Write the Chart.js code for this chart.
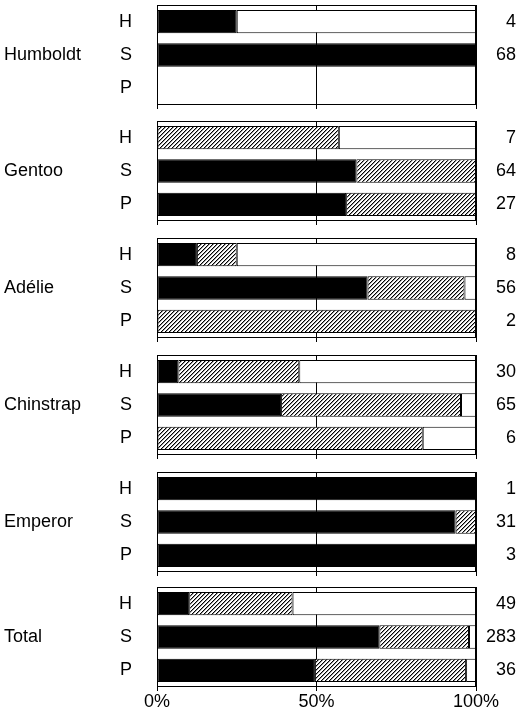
<!DOCTYPE html>
<html>
<head>
<meta charset="utf-8">
<script src="https://cdn.jsdelivr.net/npm/chart.js@4"></script>
<style>
  body { margin: 0; background: #fff; }
  .panel { position: absolute; left: 0; width: 518px; }
</style>
</head>
<body>
<div id="wrap"></div>
<script>
// groups and rows (H, S, P)
const species = ['Humboldt', 'Gentoo', 'Adélie', 'Chinstrap', 'Emperor', 'Total'];
const rowLabels = ['H', 'S', 'P'];

// share of each row in %, per species: [H, S, P]  (null = no bar)
const blackShare = [
  [25, 100, null],
  [null, 62.5, 59.3],
  [12.5, 66, null],
  [6.7, 38.9, null],
  [100, 93.6, 100],
  [10.1, 69.7, 49.5]
];
const hatchShare = [
  [null, null, null],
  [57, 37.5, 40.7],
  [12.5, 30.4, 100],
  [37.9, 56.4, 83.3],
  [null, 6.4, null],
  [32.4, 28.1, 47.4]
];
const whiteShare = [
  [75, null, null],
  [43, null, null],
  [75, 3.6, null],
  [55.4, 4.7, 16.7],
  [null, null, null],
  [57.5, 2.2, 3.1]
];
// n per row, shown on the right
const sampleSizes = [
  ['4', '68', ''],
  ['7', '64', '27'],
  ['8', '56', '2'],
  ['30', '65', '6'],
  ['1', '31', '3'],
  ['49', '283', '36']
];
const xTickLabels = ['0%', '50%', '100%'];

const FONT = { family: '"Liberation Sans", Arial, sans-serif', size: 18 };
const panelTops = [5, 121, 238, 355, 472, 587];

function makeHatch(ctx) {
  const tile = document.createElement('canvas');
  tile.width = 4;
  tile.height = 4;
  const g = tile.getContext('2d');
  g.fillStyle = '#fff';
  g.fillRect(0, 0, 4, 4);
  for (let i = 0; i < 4; i++) {
    g.fillStyle = '#000';
    g.fillRect(i, 3 - i, 1, 1);
    g.fillStyle = '#999';
    g.fillRect((i + 1) % 4, 3 - i, 1, 1);
  }
  return ctx.createPattern(tile, 'repeat');
}

// frame round the plot, group name on the left, n on the right
const panelDecor = {
  id: 'panelDecor',
  afterDatasetsDraw(chart, args, opts) {
    const { ctx, chartArea: a } = chart;
    const y = chart.scales.y;
    ctx.save();
    ctx.strokeStyle = '#000';
    ctx.lineWidth = 1;
    ctx.strokeRect(a.left + 0.5, a.top + 0.5, a.right - a.left - 1, a.bottom - a.top - 1);

    ctx.fillStyle = '#000';
    ctx.font = `${FONT.size}px ${FONT.family}`;
    ctx.textBaseline = 'middle';
    ctx.textAlign = 'left';
    ctx.fillText(opts.name, 4, y.getPixelForValue(1));
    ctx.textAlign = 'right';
    opts.counts.forEach((n, i) => {
      if (n) ctx.fillText(n, 516, y.getPixelForValue(i));
    });
    ctx.restore();
  }
};

const wrap = document.getElementById('wrap');

species.forEach((name, idx) => {
  const last = idx === species.length - 1;
  const top = panelTops[idx] - 5;
  const height = last ? 714 - top : 112;

  const box = document.createElement('div');
  box.className = 'panel';
  box.style.top = top + 'px';
  box.style.height = height + 'px';
  const canvas = document.createElement('canvas');
  box.appendChild(canvas);
  wrap.appendChild(box);
  const ctx = canvas.getContext('2d');

  const barStyle = {
    borderColor: '#000',
    borderWidth: 1,
    borderSkipped: false,
    barPercentage: 0.7,
    categoryPercentage: 1
  };

  new Chart(ctx, {
    type: 'bar',
    data: {
      labels: rowLabels,
      datasets: [
        { label: 'black', data: blackShare[idx], backgroundColor: '#000', ...barStyle },
        { label: 'hatched', data: hatchShare[idx], backgroundColor: makeHatch(ctx), ...barStyle },
        { label: 'white', data: whiteShare[idx], backgroundColor: '#fff', ...barStyle }
      ]
    },
    options: {
      indexAxis: 'y',
      responsive: true,
      maintainAspectRatio: false,
      animation: false,
      layout: { padding: { top: 5, right: 42, left: 0, bottom: last ? 0 : 3 } },
      scales: {
        x: {
          stacked: true,
          min: 0,
          max: 100,
          border: { display: false },
          grid: { color: '#000', tickColor: '#000', tickLength: 4 },
          ticks: {
            display: last,
            stepSize: 50,
            padding: 0,
            color: '#000',
            font: FONT,
            maxRotation: 0,
            callback: v => xTickLabels[v / 50]
          },
          afterFit: scale => {
            scale.height = last ? 27 : 4;
            scale.paddingLeft = 0;
            scale.paddingRight = 0;
          }
        },
        y: {
          stacked: true,
          border: { display: false },
          grid: { display: false },
          ticks: { color: '#000', font: FONT, padding: 17 },
          afterFit: scale => {
            scale.width = 157;
            scale.paddingTop = 0;
            scale.paddingBottom = 0;
          }
        }
      },
      plugins: {
        legend: { display: false },
        tooltip: { enabled: false },
        panelDecor: { name: name, counts: sampleSizes[idx] }
      }
    },
    plugins: [panelDecor]
  });
});
</script>
</body>
</html>
